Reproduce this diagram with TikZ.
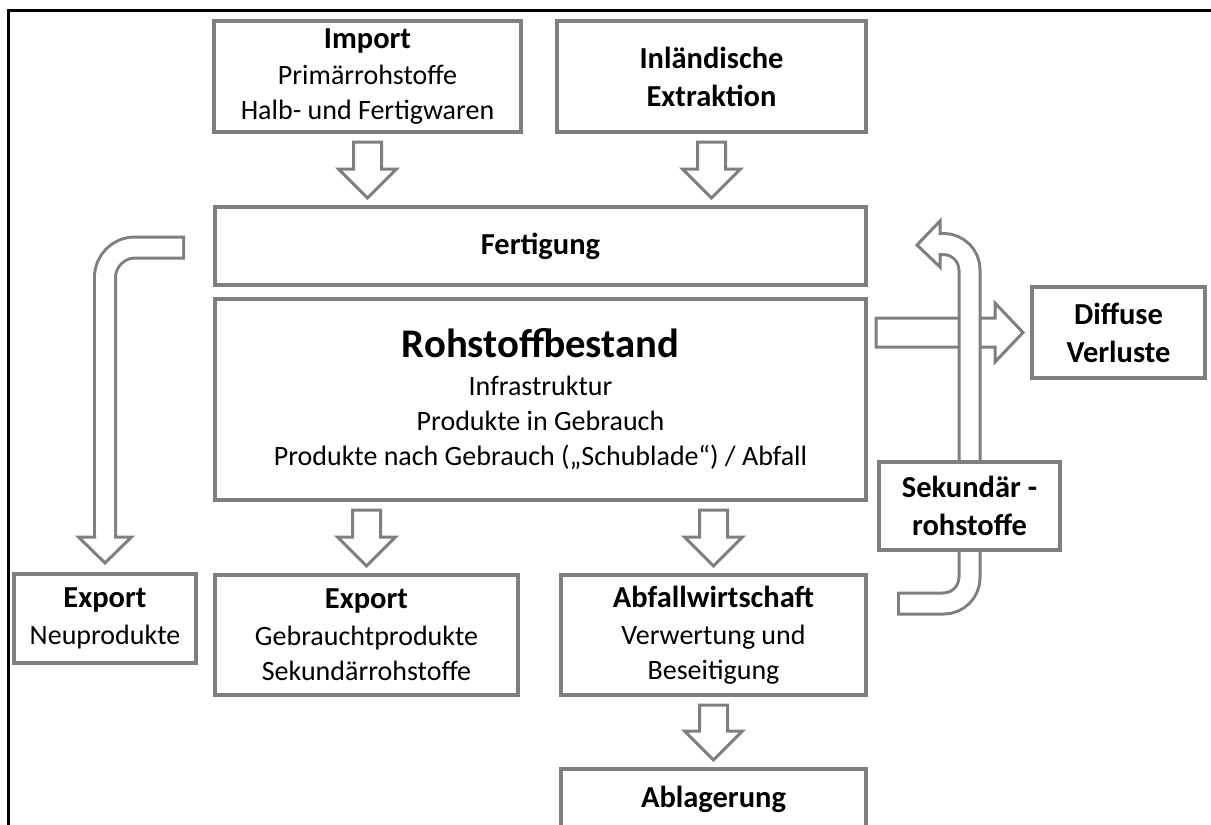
\documentclass[tikz,border=0pt]{standalone}
\usepackage{fontspec}
\setmainfont{Carlito}
\usetikzlibrary{calc,backgrounds}

\definecolor{boxgray}{RGB}{127,127,127}
\newcommand\regtxt{\fontsize{28}{35}\selectfont}
\newcommand\boldttl{\bfseries\fontsize{30.5}{38}\selectfont}
\newcommand\hugettl{\bfseries\fontsize{40.7}{46}\selectfont}

\tikzset{
  box/.style={draw=boxgray, line width=4pt, fill=white, inner sep=0pt, align=center, font=\regtxt},
  tbox/.style={box, font=\boldttl},
  fathead/.style={draw=boxgray, line width=3pt, fill=white, line join=miter},
  shaftout/.style={draw=boxgray, line width=24pt},
  shaftin/.style={draw=white, line width=18pt, shorten <=3pt},
  fatdown/.style={fathead,
    to path={($(\tikztotarget|-\tikztostart)+(-14,8)$) -- ($(\tikztotarget)+(-14,-36)$)
      -- ($(\tikztotarget)+(-29,-36)$) -- ($(\tikztotarget)+(0,-7)$) -- ($(\tikztotarget)+(29,-36)$)
      -- ($(\tikztotarget)+(14,-36)$) -- ($(\tikztotarget|-\tikztostart)+(14,8)$) -- cycle}},
  fatright/.style={fathead,
    to path={($(\tikztostart|-\tikztotarget)+(8,-14.5)$) -- ($(\tikztotarget)+(-35,-14.5)$)
      -- ($(\tikztotarget)+(-35,-29.5)$) -- ($(\tikztotarget)+(-7,0)$) -- ($(\tikztotarget)+(-35,29.5)$)
      -- ($(\tikztotarget)+(-35,14.5)$) -- ($(\tikztostart|-\tikztotarget)+(8,14.5)$) -- cycle}}
}

\begin{document}
\begin{tikzpicture}[x=1pt,y=-1pt]
 \useasboundingbox (0,0) rectangle (1211,825);
 \draw[line width=3pt] (8,10) rectangle (1240,850);

 % Zufluesse
 \node[box, minimum width=307pt, minimum height=111pt] (import) at (367.5,76.5)
  {{\boldttl Import}\\[1pt] Primärrohstoffe\\ Halb- und Fertigwaren};
 \node[tbox, minimum width=309pt, minimum height=111pt] (inland) at (711.5,76.5)
  {Inländische\\ Extraktion};

 % Bestand
 \node[tbox, minimum width=651pt, minimum height=78pt] (fert) at (540.5,246) {Fertigung};
 \node[box, minimum width=651pt, minimum height=201pt] (rohst) at (540.5,399.5)
  {{\hugettl Rohstoffbestand}\\[3pt] Infrastruktur\\ Produkte in Gebrauch\\
   Produkte nach Gebrauch („Schublade“) / Abfall};

 % Abfluesse
 \node[box, minimum width=182pt, minimum height=89pt] (exportn) at (105,618.5)
  {{\boldttl Export}\\[2pt] Neuprodukte};
 \node[box, minimum width=303pt, minimum height=120pt] (exportg) at (366.5,635)
  {{\boldttl Export}\\[2pt] Gebrauchtprodukte\\ Sekundärrohstoffe};
 \node[box, minimum width=305pt, minimum height=120pt] (abfall) at (713.5,635)
  {{\boldttl Abfallwirtschaft}\\[2pt] Verwertung und\\ Beseitigung};
 \node[tbox, minimum width=305pt, minimum height=61pt] (ablag) at (713.5,799.5) {Ablagerung};
 \node[tbox, minimum width=173pt, minimum height=91pt] (diffus) at (1118.5,332.5) {Diffuse\\ Verluste};
 \node[tbox, minimum width=181pt, minimum height=88pt] (sek) at (969.5,506) {Sekundär -\\ rohstoffe};

 \begin{scope}[on background layer]
  \coordinate (f1) at (import.south |- fert.north);
  \coordinate (f2) at (inland.south |- fert.north);
  \draw[fatdown] (import.south) to (f1);
  \draw[fatdown] (inland.south) to (f2);
  \draw[fatdown] (rohst.south) to (exportg.north);
  \draw[fatdown] (rohst.south) to (abfall.north);
  \draw[fatdown] (abfall.south) to (ablag.north);
  \draw[fatright] (rohst.east) to (diffus.west);
  % Export Neuprodukte
  \coordinate (nt) at ($(fert.west)+(-28,1.5)$);
  \coordinate (nh) at ($(exportn.north)+(0,-35)$);
  \coordinate (ns) at ($(exportn.north)+(0,-9)$);
  \draw[shaftout, rounded corners=30pt] (nt) -| (nh);
  \draw[shaftin, rounded corners=30pt] (nt) -| (nh);
  \draw[fathead] ($(nh)+(-10.5,-3)$) -- ($(nh)+(-10.5,0)$) -- ($(nh)+(-26.5,0)$) -- (ns)
   -- ($(nh)+(26.5,0)$) -- ($(nh)+(10.5,0)$) -- ($(nh)+(10.5,-3)$);
  % Sekundaerrohstoffe zurueck
  \coordinate (st) at ($(abfall.east)+(29,-31.5)$);
  \coordinate (sh) at ($(fert.east)+(72,-2)$);
  \coordinate (ss) at ($(fert.east)+(49,-1)$);
  \draw[shaftout, rounded corners=26pt] (st) -| (sek.north) |- (sh);
  \draw[shaftin, rounded corners=26pt] (st) -| (sek.north) |- (sh);
  \draw[fathead] ($(sh)+(3,-10.5)$) -- ($(sh)+(0,-10.5)$) -- ($(sh)+(0,-23)$) -- (ss)
   -- ($(sh)+(0,23)$) -- ($(sh)+(0,10.5)$) -- ($(sh)+(3,10.5)$);
 \end{scope}
\end{tikzpicture}
\end{document}
